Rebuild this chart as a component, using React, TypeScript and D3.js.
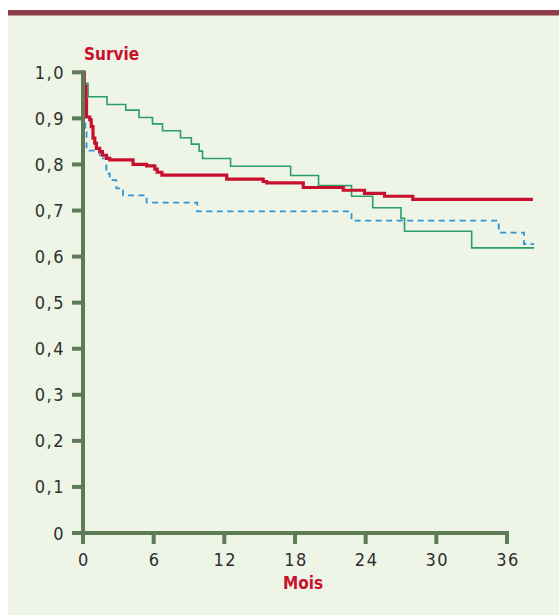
import { useEffect, useRef } from "react";
import * as d3 from "d3";

// Kaplan-Meier style curves (months, survival)
const redMonths = [0, 0.1, 0.25, 0.3, 0.57, 0.7, 0.85, 1.0, 1.14, 1.42, 1.65, 2.0, 2.27, 4.25, 5.4, 6.1, 6.3, 6.7, 12.2, 15.3, 15.6, 18.7, 22.1, 23.9, 25.6, 28.0, 38.2];
const redSurv = [1.0, 0.97, 0.94, 0.903, 0.897, 0.882, 0.857, 0.846, 0.835, 0.828, 0.82, 0.813, 0.81, 0.8, 0.797, 0.79, 0.783, 0.777, 0.768, 0.763, 0.76, 0.75, 0.744, 0.737, 0.731, 0.724, 0.724];

const greenMonths = [0, 0.15, 0.43, 2.04, 3.63, 4.76, 5.9, 6.75, 8.28, 9.2, 9.86, 10.15, 12.53, 17.63, 20.0, 22.8, 24.6, 27.0, 27.3, 33.0, 38.3];
const greenSurv = [1.0, 0.976, 0.947, 0.93, 0.918, 0.902, 0.888, 0.873, 0.858, 0.844, 0.829, 0.813, 0.796, 0.776, 0.754, 0.731, 0.706, 0.683, 0.655, 0.619, 0.619];

const blueMonths = [0, 0.1, 0.2, 0.3, 1.42, 1.98, 2.27, 2.83, 3.4, 5.4, 9.7, 22.8, 35.3, 37.45, 38.3];
const blueSurv = [1.0, 0.93, 0.87, 0.83, 0.813, 0.78, 0.766, 0.748, 0.733, 0.717, 0.698, 0.678, 0.652, 0.627, 0.627];

const xTicks = [0, 6, 12, 18, 24, 30, 36];
const yTicks = [0, 0.1, 0.2, 0.3, 0.4, 0.5, 0.6, 0.7, 0.8, 0.9, 1.0];

const AXIS = "#5F7A57";
const RED = "#C8102E";
const FONT = "'Liberation Sans Narrow', 'DejaVu Sans Condensed', sans-serif";

export default function App() {
  const ref = useRef<SVGSVGElement>(null);

  useEffect(() => {
    const el = ref.current;
    if (!el) return;
    const W = 559, H = 615;
    const svg = d3.select(el).attr("viewBox", `0 0 ${W} ${H}`).attr("width", W).attr("height", H);
    svg.selectAll("*").remove();

    // frame
    svg.append("rect").attr("x", 8).attr("y", 15).attr("width", W - 8).attr("height", H - 15).attr("fill", "#EEF4E6");
    svg.append("rect").attr("x", 8).attr("y", 10).attr("width", W - 8).attr("height", 5.5).attr("fill", "#8E3B4A");

    const x = d3.scaleLinear().domain([0, 36]).range([83, 507]);
    const y = d3.scaleLinear().domain([0, 1]).range([533, 72.3]);

    const step = (ms: number[], ss: number[]) =>
      d3.line<number>().x((_d, i) => x(ms[i])).y((d) => y(d)).curve(d3.curveStepAfter)(ss) as string;

    // curves
    svg.append("path").attr("d", step(blueMonths, blueSurv)).attr("fill", "none").attr("stroke", "#2E94D4").attr("stroke-width", 1.8).attr("stroke-dasharray", "6 4.5");
    svg.append("path").attr("d", step(greenMonths, greenSurv)).attr("fill", "none").attr("stroke", "#2A9E66").attr("stroke-width", 1.6);
    svg.append("path").attr("d", step(redMonths, redSurv)).attr("fill", "none").attr("stroke", RED).attr("stroke-width", 3.2);

    // axes
    svg.append("line").attr("x1", x(0)).attr("x2", x(0)).attr("y1", y(1) - 2).attr("y2", y(0) + 11).attr("stroke", AXIS).attr("stroke-width", 4);
    svg.append("line").attr("x1", x(0) - 11).attr("x2", x(36) + 2).attr("y1", y(0)).attr("y2", y(0)).attr("stroke", AXIS).attr("stroke-width", 4);

    yTicks.forEach((t) => {
      svg.append("line").attr("x1", x(0) - 11).attr("x2", x(0)).attr("y1", y(t)).attr("y2", y(t)).attr("stroke", AXIS).attr("stroke-width", 4);
      svg.append("text").attr("x", 65).attr("y", y(t) + 6.5).attr("text-anchor", "end")
        .attr("fill", "#2E2E2E").attr("font-size", 18).attr("letter-spacing", 1.5).attr("font-family", FONT)
        .text(t === 0 ? "0" : d3.format(".1f")(t).replace(".", ","));
    });
    xTicks.forEach((t) => {
      svg.append("line").attr("x1", x(t)).attr("x2", x(t)).attr("y1", y(0)).attr("y2", y(0) + 11).attr("stroke", AXIS).attr("stroke-width", 4);
      svg.append("text").attr("x", x(t) + 1).attr("y", 566).attr("text-anchor", "middle")
        .attr("fill", "#2E2E2E").attr("font-size", 18).attr("letter-spacing", 1.5).attr("font-family", FONT).text(t);
    });

    // titles
    svg.append("text").attr("x", 84).attr("y", 60).attr("fill", RED).attr("font-size", 17).attr("font-weight", "bold")
      .attr("font-family", "'DejaVu Sans Condensed', sans-serif").text("Survie");
    svg.append("text").attr("x", x(18) + 8).attr("y", 589).attr("text-anchor", "middle").attr("fill", RED).attr("font-size", 17).attr("font-weight", "bold")
      .attr("font-family", "'DejaVu Sans Condensed', sans-serif").text("Mois");
  }, []);

  return <svg ref={ref} style={{ position: "absolute", left: 0, top: 0, display: "block" }} role="img" aria-label="Courbes de survie" />;
}
